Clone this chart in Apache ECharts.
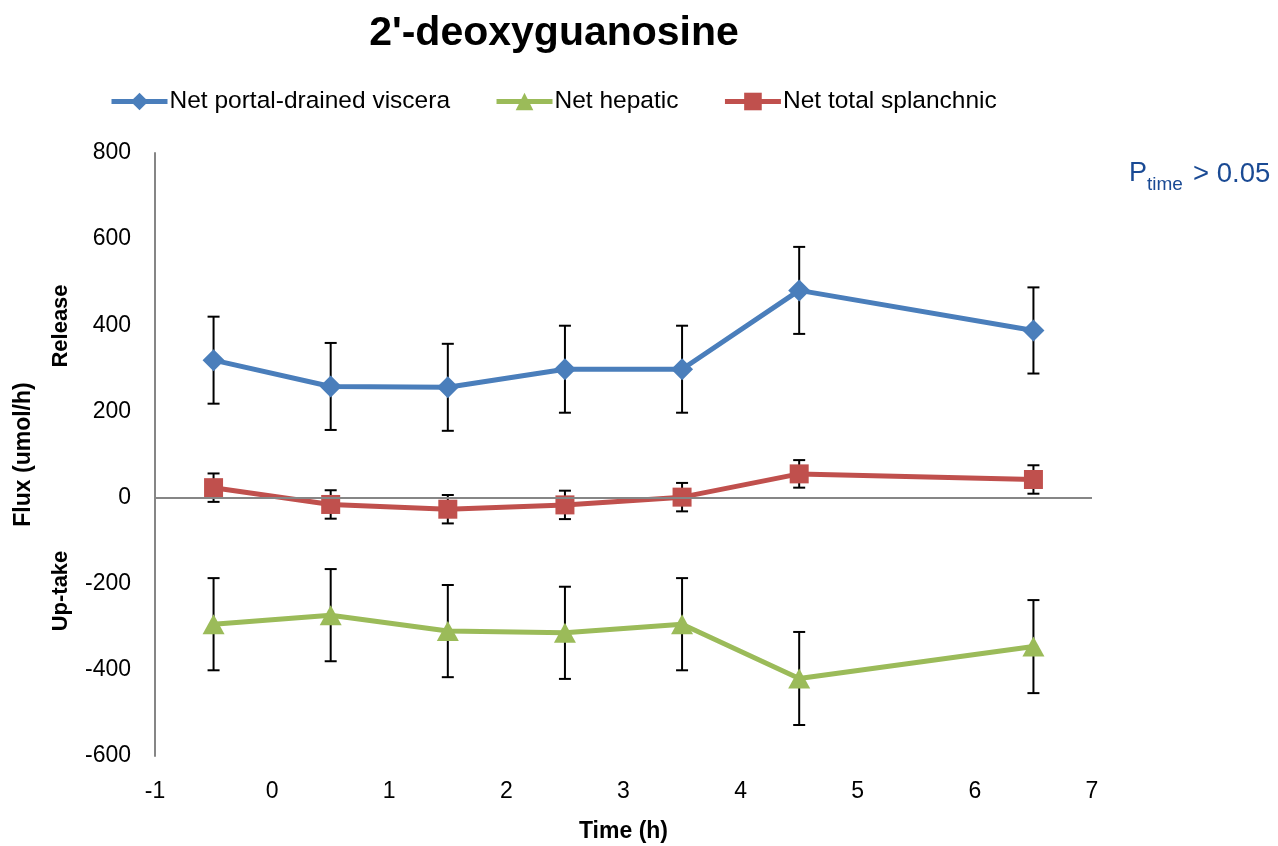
<!DOCTYPE html>
<html>
<head>
<meta charset="utf-8">
<script src="https://cdn.jsdelivr.net/npm/echarts@6/dist/echarts.min.js"></script>
<style>html,body{margin:0;padding:0;background:#fff}#c{width:1278px;height:846px}</style>
</head>
<body>
<div id="c"></div>
<script>
var times = [-0.5, 0.5, 1.5, 2.5, 3.5, 4.5, 6.5];
var pdv = [319, 258, 256, 298, 298, 481, 388];
var pdvErr = [101, 101, 101, 101, 101, 101, 100];
var hep = [-294, -273, -310, -314, -294, -420, -346];
var hepErr = [107, 107, 107, 107, 107, 108, 108];
var spl = [23, -16, -27, -17, 1, 55, 42];
var splErr = [33, 33, 33, 33, 33, 32, 33];
var xTicks = [-1, 0, 1, 2, 3, 4, 5, 6, 7];
var yTicks = [-600, -400, -200, 0, 200, 400, 600, 800];

var FONT = '"Liberation Sans", Arial, sans-serif';
var chart = echarts.init(document.getElementById('c'));

function pairs(vals){ return times.map(function(t,i){ return [t, vals[i]]; }); }
function errData(vals, errs){ return times.map(function(t,i){ return [t, vals[i]-errs[i], vals[i]+errs[i]]; }); }
function errSeries(vals, errs){
  return {
    type: 'custom', z: 1, silent: true,
    data: errData(vals, errs),
    renderItem: function(params, api){
      var lo = api.coord([api.value(0), api.value(1)]);
      var hi = api.coord([api.value(0), api.value(2)]);
      var w = 6;
      var st = {stroke: '#000', lineWidth: 2};
      return {type: 'group', children: [
        {type: 'line', shape: {x1: lo[0], y1: lo[1], x2: hi[0], y2: hi[1]}, style: st},
        {type: 'line', shape: {x1: lo[0]-w, y1: lo[1], x2: lo[0]+w, y2: lo[1]}, style: st},
        {type: 'line', shape: {x1: hi[0]-w, y1: hi[1], x2: hi[0]+w, y2: hi[1]}, style: st}
      ]};
    }
  };
}

chart.setOption({
  animation: false,
  backgroundColor: '#fff',
  title: {
    text: "2'-deoxyguanosine", left: 549, top: 8, textAlign: 'center',
    textStyle: {fontFamily: FONT, fontSize: 41, fontWeight: 'bold', color: '#000'}
  },
  legend: {
    left: 104, top: 84, itemWidth: 56, itemHeight: 22, itemGap: 44,
    lineStyle: {width: 5},
    textStyle: {fontFamily: FONT, fontSize: 24.5, color: '#000', padding: [0,0,0,-3]},
    data: ['Net portal-drained viscera', 'Net hepatic', 'Net total splanchnic']
  },
  grid: {left: 155, right: 186, top: 153, bottom: 90, outerBoundsMode: 'none'},
  xAxis: {
    type: 'value', min: xTicks[0], max: xTicks[xTicks.length-1], interval: 1,
    axisLine: {show: false}, axisTick: {show: false}, splitLine: {show: false},
    axisLabel: {fontFamily: FONT, fontSize: 23, color: '#000', margin: 24},
    name: 'Time (h)', nameLocation: 'middle', nameGap: 64,
    nameTextStyle: {fontFamily: FONT, fontSize: 23, fontWeight: 'bold', color: '#000'}
  },
  yAxis: {
    type: 'value', min: yTicks[0], max: yTicks[yTicks.length-1], interval: 200,
    axisLine: {show: true, onZero: false, lineStyle: {color: '#868686', width: 2}},
    axisTick: {show: false}, splitLine: {show: false},
    axisLabel: {fontFamily: FONT, fontSize: 23, color: '#000', margin: 24},
    name: 'Flux (umol/h)', nameLocation: 'middle', nameGap: 120, nameRotate: 90,
    nameTextStyle: {fontFamily: FONT, fontSize: 23, fontWeight: 'bold', color: '#000'}
  },
  graphic: [
    {type: 'text', x: 61, y: 326, rotation: Math.PI/2, style: {text: 'Release', fontFamily: FONT, fontSize: 22, fontWeight: 'bold', fill: '#000', align: 'center', verticalAlign: 'middle'}},
    {type: 'text', x: 61, y: 591, rotation: Math.PI/2, style: {text: 'Up-take', fontFamily: FONT, fontSize: 22, fontWeight: 'bold', fill: '#000', align: 'center', verticalAlign: 'middle'}},
    {type: 'text', x: 1129, y: 160, style: {text: 'P', fontFamily: FONT, fontSize: 27, fill: '#1a4a94'}},
    {type: 'text', x: 1147, y: 175, style: {text: 'time', fontFamily: FONT, fontSize: 19, fill: '#1a4a94'}},
    {type: 'text', x: 1193, y: 160, style: {text: '> 0.05', fontFamily: FONT, fontSize: 27.5, fill: '#1a4a94'}}
  ],
  series: [
    errSeries(pdv, pdvErr),
    errSeries(hep, hepErr),
    errSeries(spl, splErr),
    {
      name: 'Net portal-drained viscera', type: 'line', z: 3, data: pairs(pdv),
      symbol: 'diamond', symbolSize: 22,
      lineStyle: {color: '#4A7EBB', width: 5}, itemStyle: {color: '#4A7EBB'},
      markLine: {silent: true, symbol: 'none', label: {show: false},
        lineStyle: {color: '#868686', width: 2, type: 'solid'}, data: [{yAxis: 0}]}
    },
    {
      name: 'Net hepatic', type: 'line', z: 3, data: pairs(hep),
      symbol: 'triangle', symbolSize: [22, 20],
      lineStyle: {color: '#9BBB59', width: 5}, itemStyle: {color: '#9BBB59'}
    },
    {
      name: 'Net total splanchnic', type: 'line', z: 3, data: pairs(spl),
      symbol: 'rect', symbolSize: 19,
      lineStyle: {color: '#C0504D', width: 5}, itemStyle: {color: '#C0504D'}
    }
  ]
});
</script>
</body>
</html>
